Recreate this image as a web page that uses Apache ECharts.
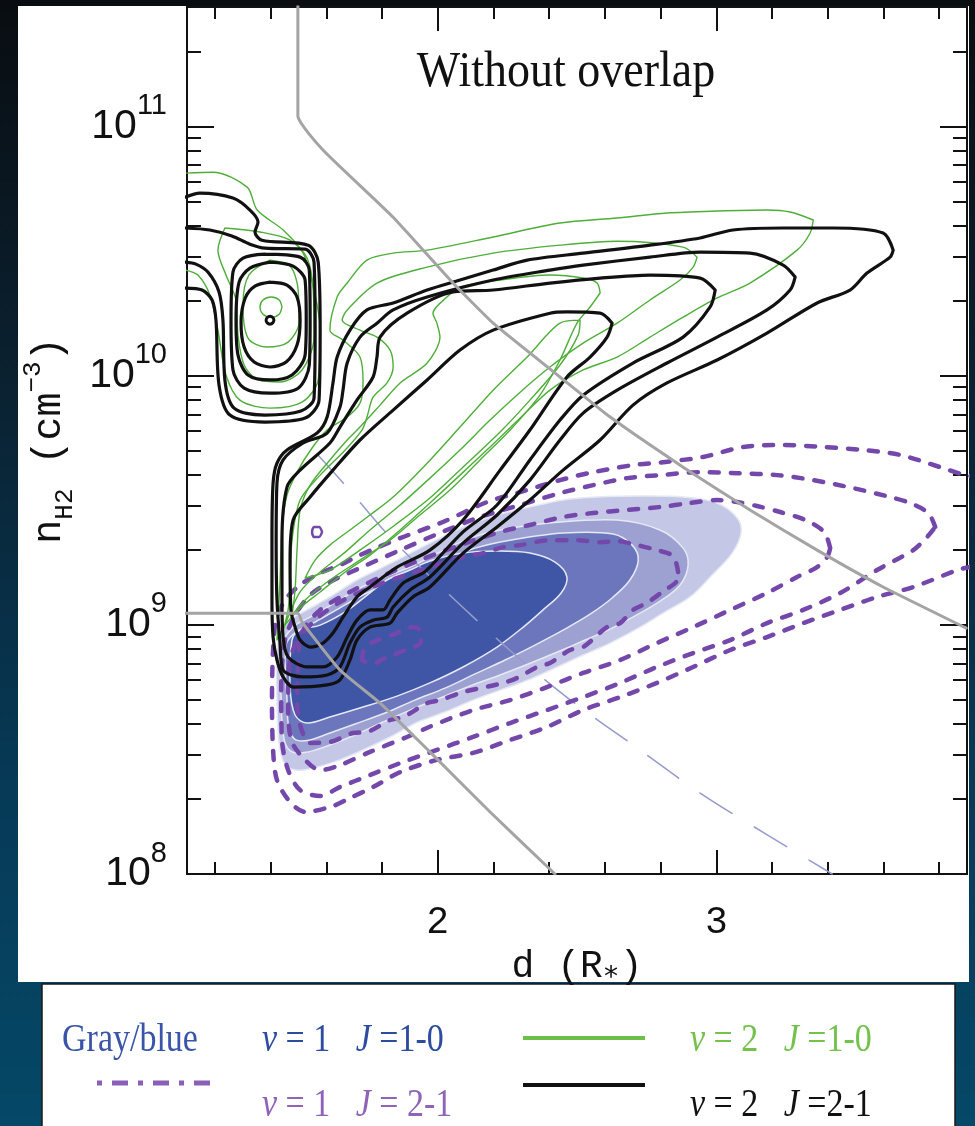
<!DOCTYPE html>
<html><head><meta charset="utf-8">
<script src="https://cdn.jsdelivr.net/npm/echarts@6/dist/echarts.min.js"></script>
<style>html,body{margin:0;padding:0;background:#06202e;}#c{width:975px;height:1126px;}</style>
</head><body><div id="c"></div>
<script>
// x = d (R*), y = log10 n_H2 (cm^-3)
const xMajorTicks = [2, 3];
const xMinorTicks = [1.2,1.4,1.6,1.8,2.2,2.4,2.6,2.8,3.2,3.4,3.6,3.8];
const yMajorTicks = [1e8, 1e9, 1e10, 1e11];
const yMinorTicks = [2e8,3e8,4e8,5e8,6e8,7e8,8e8,9e8,2e9,3e9,4e9,5e9,6e9,7e9,8e9,9e9,2e10,3e10,4e10,5e10,6e10,7e10,8e10,9e10,2e11];

// v=1 J=1-0 filled levels (outer -> inner)
const blueLevel1 = [[1.427,8.939],[1.470,9.019],[1.531,9.060],[1.613,9.112],[1.710,9.180],[1.782,9.220],[1.854,9.260],[1.972,9.328],[2.091,9.393],[2.213,9.441],[2.331,9.473],[2.450,9.501],[2.572,9.513],[2.726,9.517],[2.881,9.513],[3.003,9.489],[3.075,9.429],[3.089,9.369],[3.057,9.288],[2.985,9.200],[2.906,9.112],[2.816,9.052],[2.720,8.987],[2.619,8.927],[2.522,8.879],[2.421,8.827],[2.325,8.779],[2.224,8.738],[2.127,8.698],[2.026,8.650],[1.929,8.610],[1.829,8.550],[1.732,8.498],[1.649,8.458],[1.553,8.425],[1.488,8.417],[1.449,8.445],[1.431,8.518],[1.423,8.698]];
const blueLevel2 = [[1.441,8.919],[1.481,8.991],[1.542,9.031],[1.631,9.088],[1.721,9.148],[1.811,9.192],[1.901,9.232],[2.008,9.292],[2.116,9.348],[2.224,9.381],[2.403,9.409],[2.644,9.421],[2.798,9.381],[2.881,9.308],[2.899,9.240],[2.870,9.160],[2.805,9.100],[2.726,9.047],[2.626,8.987],[2.529,8.939],[2.421,8.887],[2.325,8.843],[2.224,8.799],[2.116,8.755],[2.008,8.706],[1.901,8.658],[1.804,8.610],[1.703,8.558],[1.613,8.518],[1.535,8.490],[1.477,8.490],[1.449,8.538],[1.438,8.698]];
const blueLevel3 = [[1.455,8.919],[1.491,8.971],[1.560,9.011],[1.649,9.068],[1.739,9.124],[1.829,9.168],[1.918,9.208],[2.026,9.260],[2.134,9.308],[2.260,9.340],[2.450,9.369],[2.630,9.365],[2.698,9.320],[2.720,9.260],[2.690,9.180],[2.626,9.108],[2.547,9.043],[2.450,8.979],[2.349,8.919],[2.242,8.859],[2.134,8.803],[2.026,8.746],[1.918,8.698],[1.811,8.646],[1.703,8.602],[1.613,8.566],[1.542,8.538],[1.491,8.538],[1.466,8.586],[1.459,8.698]];
const blueLevel4 = [[1.477,8.939],[1.506,8.979],[1.578,8.999],[1.668,9.052],[1.739,9.112],[1.818,9.180],[1.901,9.220],[1.972,9.256],[2.091,9.288],[2.213,9.296],[2.331,9.288],[2.421,9.252],[2.464,9.192],[2.443,9.128],[2.378,9.060],[2.307,8.991],[2.213,8.911],[2.091,8.831],[1.972,8.767],[1.854,8.714],[1.732,8.670],[1.613,8.630],[1.531,8.606],[1.488,8.638],[1.470,8.750]];

// v=1 J=2-1 dashed contours
const purple1 = [[4.019,9.581],[3.894,9.601],[3.804,9.633],[3.660,9.682],[3.527,9.702],[3.383,9.714],[3.240,9.722],[3.096,9.714],[2.953,9.674],[2.809,9.653],[2.701,9.641],[2.558,9.613],[2.439,9.581],[2.296,9.533],[2.177,9.493],[2.019,9.413],[1.865,9.348],[1.721,9.280],[1.649,9.240],[1.578,9.208],[1.506,9.160],[1.452,9.100],[1.420,9.019],[1.409,8.899],[1.405,8.698],[1.409,8.498],[1.423,8.377],[1.470,8.289],[1.524,8.249],[1.624,8.273],[1.685,8.305],[1.768,8.349],[1.865,8.409],[1.997,8.458],[2.127,8.486],[2.260,8.538],[2.392,8.590],[2.522,8.658],[2.655,8.710],[2.787,8.767],[2.917,8.831],[3.050,8.899],[3.182,8.951],[3.312,9.007],[3.445,9.060],[3.577,9.112],[3.707,9.152],[3.865,9.220],[4.019,9.280]];
const purple2 = [[3.786,9.393],[3.761,9.449],[3.696,9.489],[3.624,9.513],[3.491,9.549],[3.348,9.581],[3.218,9.601],[3.075,9.609],[2.942,9.613],[2.798,9.601],[2.680,9.589],[2.558,9.561],[2.439,9.529],[2.296,9.481],[2.152,9.433],[2.008,9.369],[1.865,9.300],[1.721,9.228],[1.613,9.172],[1.542,9.120],[1.488,9.039],[1.452,8.939],[1.438,8.738],[1.441,8.538],[1.463,8.417],[1.506,8.337],[1.578,8.313],[1.649,8.349],[1.757,8.397],[1.865,8.445],[1.997,8.498],[2.127,8.550],[2.260,8.606],[2.392,8.658],[2.522,8.710],[2.655,8.767],[2.787,8.831],[2.917,8.887],[3.050,8.939],[3.182,9.007],[3.312,9.060],[3.445,9.128],[3.577,9.220],[3.707,9.300],[3.757,9.353]];
const purple3 = [[3.409,9.308],[3.387,9.373],[3.319,9.421],[3.229,9.453],[3.146,9.477],[3.075,9.493],[3.003,9.501],[2.906,9.489],[2.798,9.473],[2.680,9.461],[2.558,9.449],[2.450,9.433],[2.331,9.401],[2.224,9.373],[2.080,9.320],[1.936,9.260],[1.811,9.200],[1.685,9.132],[1.578,9.060],[1.517,8.979],[1.470,8.859],[1.463,8.698],[1.474,8.538],[1.524,8.458],[1.578,8.417],[1.649,8.437],[1.757,8.490],[1.890,8.550],[1.969,8.590],[2.127,8.658],[2.260,8.698],[2.392,8.750],[2.522,8.807],[2.655,8.859],[2.787,8.927],[2.917,8.991],[3.050,9.060],[3.182,9.128],[3.290,9.192],[3.362,9.232],[3.398,9.272]];
const purple4 = [[2.863,9.212],[2.845,9.276],[2.787,9.300],[2.716,9.320],[2.644,9.336],[2.583,9.332],[2.500,9.340],[2.403,9.340],[2.296,9.320],[2.235,9.312],[2.163,9.288],[2.091,9.272],[1.972,9.232],[1.865,9.192],[1.757,9.148],[1.649,9.092],[1.560,9.019],[1.506,8.939],[1.499,8.839],[1.495,8.698],[1.506,8.598],[1.542,8.526],[1.613,8.530],[1.696,8.566],[1.746,8.570],[1.829,8.618],[1.876,8.630],[1.962,8.686],[2.008,8.698],[2.091,8.730],[2.235,8.767],[2.285,8.787],[2.357,8.831],[2.403,8.847],[2.475,8.899],[2.522,8.911],[2.608,8.991],[2.655,9.007],[2.701,9.060],[2.751,9.088],[2.816,9.140],[2.856,9.172]];
const purple5 = [[1.728,8.859],[1.739,8.911],[1.786,8.939],[1.854,8.967],[1.908,8.991],[1.936,8.979],[1.940,8.931],[1.883,8.899],[1.811,8.867],[1.764,8.843]];
const purple6 = [[1.585,9.373],[1.574,9.393],[1.556,9.393],[1.549,9.373],[1.556,9.353],[1.574,9.353]];

// v=2 J=1-0 thin contours
const green1 = [[3.348,10.625],[3.265,10.657],[3.182,10.665],[3.003,10.661],[2.823,10.653],[2.644,10.633],[2.439,10.613],[2.199,10.557],[1.962,10.504],[1.840,10.492],[1.746,10.464],[1.675,10.372],[1.639,10.316],[1.613,10.183],[1.660,10.143],[1.721,10.075],[1.732,9.971],[1.721,9.890],[1.675,9.834],[1.603,9.782],[1.549,9.710],[1.499,9.621],[1.459,9.521],[1.441,9.381],[1.434,9.180],[1.427,9.019],[1.423,8.939],[1.452,8.999],[1.506,9.068],[1.578,9.132],[1.668,9.212],[1.757,9.280],[1.865,9.381],[1.972,9.489],[2.080,9.601],[2.188,9.714],[2.296,9.830],[2.403,9.942],[2.522,10.023],[2.644,10.075],[2.762,10.155],[2.881,10.235],[3.003,10.312],[3.121,10.372],[3.290,10.504],[3.337,10.573]];
const green2 = [[2.931,10.476],[2.881,10.516],[2.644,10.540],[2.439,10.524],[2.199,10.492],[1.962,10.436],[1.782,10.372],[1.675,10.264],[1.657,10.223],[1.721,10.183],[1.782,10.155],[1.829,10.103],[1.840,10.035],[1.818,9.971],[1.768,9.914],[1.746,9.834],[1.728,9.782],[1.668,9.702],[1.578,9.601],[1.506,9.501],[1.477,9.340],[1.470,9.180],[1.463,9.060],[1.445,8.979],[1.506,9.132],[1.578,9.212],[1.668,9.292],[1.757,9.381],[1.865,9.481],[1.972,9.589],[2.080,9.702],[2.188,9.822],[2.296,9.934],[2.403,10.035],[2.522,10.131],[2.644,10.211],[2.762,10.304],[2.870,10.384],[2.917,10.436]];
const green3 = [[2.583,10.332],[2.572,10.372],[2.522,10.392],[2.403,10.404],[2.224,10.384],[2.080,10.356],[2.033,10.316],[1.983,10.251],[1.997,10.211],[2.008,10.155],[1.962,10.051],[1.865,9.971],[1.793,9.882],[1.721,9.794],[1.675,9.742],[1.613,9.662],[1.542,9.561],[1.506,9.461],[1.495,9.300],[1.488,9.140],[1.477,9.039],[1.524,9.100],[1.613,9.180],[1.721,9.260],[1.829,9.340],[1.936,9.441],[2.044,9.541],[2.152,9.662],[2.260,9.782],[2.367,9.922],[2.439,10.063],[2.500,10.211],[2.547,10.276]];
const green4 = [[2.511,10.223],[2.439,10.211],[2.321,10.075],[2.199,9.942],[2.080,9.794],[1.962,9.649],[1.840,9.513],[1.757,9.441],[1.685,9.381],[1.613,9.320],[1.560,9.260],[1.524,9.188],[1.613,9.220],[1.721,9.300],[1.847,9.401],[1.972,9.509],[2.098,9.641],[2.224,9.774],[2.331,9.902],[2.439,10.043],[2.504,10.163]];
const greenIsland1 = [[1.441,10.276],[1.431,10.304],[1.402,10.316],[1.373,10.304],[1.362,10.276],[1.373,10.247],[1.402,10.235],[1.431,10.247]];
const greenIsland2 = [[1.398,10.464],[1.470,10.440],[1.499,10.344],[1.502,10.215],[1.463,10.135],[1.384,10.115],[1.319,10.151],[1.301,10.284],[1.322,10.404]];
const greenIsland3 = [[1.236,10.593],[1.362,10.577],[1.470,10.544],[1.531,10.472],[1.553,10.344],[1.556,10.155],[1.513,10.023],[1.434,9.975],[1.355,9.983],[1.305,10.043],[1.283,10.163],[1.276,10.304],[1.240,10.404],[1.211,10.504]];
const greenIsland4 = [[1.095,10.813],[1.193,10.817],[1.316,10.757],[1.352,10.665],[1.445,10.585],[1.517,10.492],[1.556,10.344],[1.578,10.183],[1.571,9.983],[1.513,9.894],[1.398,9.870],[1.290,9.902],[1.240,10.003],[1.211,10.183],[1.182,10.324],[1.139,10.404],[1.095,10.424]];

// v=2 J=2-1 thick contours
const black1 = [[3.635,10.504],[3.599,10.573],[3.420,10.593],[3.240,10.593],[3.060,10.585],[2.942,10.553],[2.762,10.524],[2.522,10.492],[2.321,10.464],[2.199,10.424],[2.080,10.384],[1.962,10.344],[1.840,10.292],[1.746,10.264],[1.685,10.183],[1.639,10.075],[1.624,9.971],[1.603,9.834],[1.567,9.770],[1.459,9.702],[1.423,9.649],[1.409,9.569],[1.405,9.340],[1.405,9.100],[1.409,8.951],[1.423,8.859],[1.445,8.791],[1.481,8.750],[1.603,8.759],[1.649,8.779],[1.685,8.859],[1.710,8.939],[1.757,8.991],[1.829,9.007],[1.854,9.047],[1.911,9.112],[1.972,9.152],[2.091,9.288],[2.213,9.393],[2.331,9.501],[2.450,9.621],[2.583,9.742],[2.701,9.882],[2.823,9.971],[3.003,10.063],[3.182,10.171],[3.362,10.292],[3.480,10.344],[3.541,10.412],[3.624,10.476]];
const black2 = [[3.283,10.396],[3.240,10.444],[3.121,10.492],[2.942,10.496],[2.762,10.476],[2.522,10.444],[2.403,10.424],[2.199,10.384],[1.962,10.316],[1.840,10.264],[1.782,10.211],[1.721,10.155],[1.675,10.051],[1.660,9.942],[1.649,9.874],[1.603,9.770],[1.517,9.730],[1.445,9.662],[1.423,9.569],[1.420,9.340],[1.423,9.100],[1.434,8.927],[1.445,8.819],[1.517,8.791],[1.603,8.799],[1.649,8.831],[1.685,8.927],[1.721,8.991],[1.768,9.019],[1.818,9.031],[1.840,9.072],[1.901,9.140],[1.972,9.192],[2.091,9.328],[2.213,9.441],[2.331,9.581],[2.439,9.742],[2.522,9.850],[2.644,9.942],[2.823,10.051],[3.003,10.155],[3.182,10.264],[3.265,10.344]];
const black3 = [[2.996,10.344],[2.942,10.392],[2.762,10.404],[2.583,10.392],[2.403,10.372],[2.199,10.344],[2.055,10.336],[1.890,10.251],[1.793,10.155],[1.782,10.075],[1.768,9.995],[1.710,9.902],[1.649,9.794],[1.613,9.730],[1.506,9.621],[1.459,9.553],[1.441,9.340],[1.441,9.100],[1.445,8.951],[1.463,8.871],[1.531,8.831],[1.588,8.831],[1.639,8.871],[1.675,8.951],[1.710,9.019],[1.757,9.060],[1.804,9.060],[1.829,9.100],[1.876,9.168],[1.947,9.208],[1.972,9.232],[2.091,9.373],[2.213,9.481],[2.331,9.662],[2.439,9.822],[2.522,9.922],[2.701,10.051],[2.881,10.155],[2.978,10.276]];
const black4 = [[2.626,10.211],[2.583,10.251],[2.464,10.256],[2.403,10.251],[2.199,10.183],[2.080,10.103],[1.962,9.983],[1.840,9.862],[1.721,9.742],[1.624,9.621],[1.542,9.513],[1.481,9.421],[1.470,9.260],[1.473,9.060],[1.488,8.991],[1.506,8.939],[1.542,8.911],[1.588,8.927],[1.624,8.967],[1.660,9.031],[1.710,9.112],[1.757,9.152],[1.804,9.192],[1.854,9.232],[1.972,9.300],[2.091,9.421],[2.224,9.621],[2.331,9.782],[2.464,9.995],[2.547,10.075],[2.608,10.155]];
const blackIsland0 = [[1.412,10.223],[1.408,10.234],[1.398,10.239],[1.388,10.234],[1.384,10.223],[1.388,10.212],[1.398,10.207],[1.408,10.212]];
const blackIsland1 = [[1.398,10.376],[1.459,10.364],[1.495,10.316],[1.506,10.223],[1.495,10.123],[1.456,10.055],[1.398,10.035],[1.341,10.055],[1.305,10.115],[1.294,10.215],[1.309,10.312],[1.344,10.360]];
const blackIsland2 = [[1.398,10.456],[1.481,10.440],[1.524,10.384],[1.528,10.223],[1.524,10.083],[1.477,10.003],[1.398,9.983],[1.319,10.003],[1.283,10.083],[1.276,10.223],[1.287,10.376],[1.326,10.432]];
const blackIsland3 = [[1.380,10.488],[1.506,10.476],[1.539,10.424],[1.542,10.223],[1.539,10.043],[1.499,9.950],[1.398,9.930],[1.305,9.950],[1.265,10.023],[1.258,10.223],[1.265,10.416],[1.301,10.472]];
const blackIsland4 = [[1.095,10.593],[1.182,10.585],[1.261,10.561],[1.326,10.528],[1.380,10.512],[1.524,10.508],[1.556,10.456],[1.560,10.183],[1.556,9.910],[1.509,9.858],[1.380,9.842],[1.269,9.870],[1.236,9.983],[1.229,10.223],[1.215,10.336],[1.175,10.416],[1.132,10.448],[1.095,10.456]];
const blackIsland5 = [[1.095,10.717],[1.146,10.733],[1.265,10.713],[1.326,10.665],[1.355,10.617],[1.344,10.577],[1.369,10.544],[1.535,10.524],[1.571,10.456],[1.578,10.183],[1.574,9.902],[1.524,9.830],[1.380,9.814],[1.254,9.842],[1.215,9.962],[1.204,10.223],[1.190,10.304],[1.154,10.344],[1.095,10.352]];

// gray guide lines
const grayLineA = [[1.498,11.49],[1.498,11.042],[1.588,10.906],[1.839,10.637],[2.055,10.372],[2.199,10.211],[2.439,9.995],[2.619,9.834],[2.881,9.633],[3.121,9.461],[3.362,9.300],[3.599,9.152],[3.897,8.987]];
const grayLineB = [[1.09,9.047],[1.498,9.047],[1.513,9.011],[1.649,8.819],[1.793,8.686],[1.972,8.490],[2.188,8.249],[2.421,8.0]];
const thinDashLine = [[1.570,9.682],[1.674,9.553],[1.839,9.340],[2.062,9.100],[2.270,8.887],[2.486,8.690],[2.716,8.506],[2.942,8.325],[3.183,8.157],[3.416,8.0]];

const chart = echarts.init(document.getElementById('c'), null, {renderer:'canvas'});
const lg = v => Math.log10(v);
const MONO = 'Liberation Mono';
const SERIF = 'Liberation Serif';

function contour(data, color, width, dash, z, closed, smooth) {
  return {type:'line', data: closed ? data.concat([data[0]]) : data, showSymbol:false, symbol:'none',
    smooth: smooth === undefined ? 0.3 : smooth, clip:true, silent:true, z: z, animation:false,
    lineStyle:{color: color, width: width, type: dash || 'solid', cap:'round', join:'round'},
    emphasis:{disabled:true}};
}
function fill(pts, color, z) {
  return {type:'custom', coordinateSystem:'cartesian2d', data:[pts[0]], clip:true, silent:true, z: z, animation:false,
    renderItem: (params, api) => ({type:'polygon', shape:{points: pts.map(p => api.coord(p)), smooth:0.35},
      style:{fill: color, stroke:'#e6e8f4', lineWidth:1.5}})};
}
const BLACK = '#111111', GREEN = '#4fae3a', PURPLE = '#7448ab';
const pDash = [9, 12];

const series = [
  fill(blueLevel1, '#c4c7e6', 1), fill(blueLevel2, '#9ca1d2', 1), fill(blueLevel3, '#6c76bc', 1), fill(blueLevel4, '#3e56a5', 1),
  contour(thinDashLine, '#959bcb', 1.5, [38, 26], 2, false, 0.3),
  contour(purple1, PURPLE, 4.5, pDash, 3, true), contour(purple2, PURPLE, 4.5, pDash, 3, true),
  contour(purple3, PURPLE, 4.5, pDash, 3, true), contour(purple4, PURPLE, 4.5, pDash, 3, true),
  contour(purple5, PURPLE, 4.5, pDash, 3, true), contour(purple6, PURPLE, 2.5, 'solid', 3, true),
  contour(green1, GREEN, 1.4, null, 4, true), contour(green2, GREEN, 1.4, null, 4, true),
  contour(green3, GREEN, 1.4, null, 4, true), contour(green4, GREEN, 1.4, null, 4, true),
  contour(greenIsland1, GREEN, 1.4, null, 4, true), contour(greenIsland2, GREEN, 1.4, null, 4, true),
  contour(greenIsland3, GREEN, 1.4, null, 4, true), contour(greenIsland4, GREEN, 1.4, null, 4, false),
  contour(black1, BLACK, 3.2, null, 5, true), contour(black2, BLACK, 3.2, null, 5, true),
  contour(black3, BLACK, 3.2, null, 5, true), contour(black4, BLACK, 3.2, null, 5, true),
  contour(blackIsland0, BLACK, 3, null, 5, true, 0.5), contour(blackIsland1, BLACK, 3.2, null, 5, true),
  contour(blackIsland2, BLACK, 3.2, null, 5, true), contour(blackIsland3, BLACK, 3.2, null, 5, true),
  contour(blackIsland4, BLACK, 3.2, null, 5, false), contour(blackIsland5, BLACK, 3.2, null, 5, false),
  contour(grayLineA, '#a4a4a4', 3, null, 6, false, 0.15), contour(grayLineB, '#a4a4a4', 3, null, 6, false, 0.15)
];

const tickStyle = {color:'#111', width:2};
function xAx(pos, ticks, len, withLabel) {
  return {type:'value', min:1.1, max:3.9, position:pos, splitLine:{show:false}, axisLine:{show:false},
    axisTick:{show:true, inside:true, length:len, customValues:ticks, lineStyle:tickStyle},
    axisLabel: withLabel ? {show:true, customValues:xMajorTicks, margin:30, color:'#111', fontFamily:MONO, fontSize:38,
      formatter: v => String(Math.round(v))} : {show:false},
    name: withLabel ? 'd (R{s|∗})' : '', nameLocation:'middle', nameGap:66,
    nameTextStyle:{color:'#111', fontFamily:MONO, fontSize:38, lineHeight:40,
      rich:{s:{fontFamily:'DejaVu Sans Mono', fontSize:28, color:'#111', verticalAlign:'bottom', lineHeight:32}}}};
}
function yAx(pos, ticks, len, withLabel) {
  return {type:'value', min:8, max:11.48, position:pos, splitLine:{show:false}, axisLine:{show:false},
    axisTick:{show:true, inside:true, length:len, customValues:ticks.map(lg), lineStyle:tickStyle},
    axisLabel: withLabel ? {show:true, customValues:yMajorTicks.map(lg), margin:20,
      formatter: v => '{b|10}{s|' + Math.round(v) + '}',
      rich:{b:{fontFamily:'Liberation Sans', fontSize:41, lineHeight:70, color:'#111'},
            s:{fontFamily:'Liberation Sans', fontSize:29, lineHeight:29, verticalAlign:'top', color:'#111'}}} : {show:false},
    name: withLabel ? 'n{sub|H2} (cm{sup|−3})' : '', nameLocation:'middle', nameGap:104, nameRotate:90,
    nameTextStyle:{color:'#111', fontFamily:MONO, fontSize:40, lineHeight:58,
      rich:{sub:{fontFamily:MONO, fontSize:26, lineHeight:26, verticalAlign:'bottom', color:'#111'},
            sup:{fontFamily:MONO, fontSize:26, lineHeight:26, verticalAlign:'top', color:'#111'}}}};
}

function legendText(txt, x, y, color) {
  return {type:'text', x:x, y:y, z:30, silent:true, scaleY:1.15,
    style:{text:txt, fill:color, fontFamily:SERIF, fontSize:34, verticalAlign:'middle', align:'left',
      rich:{i:{fontFamily:SERIF, fontSize:34, fontStyle:'italic', fill:color}}}};
}

const option = {
  animation:false,
  backgroundColor:'transparent',
  grid:{left:187, right:8, top:7, bottom:252, show:true, borderColor:'#111', borderWidth:2, backgroundColor:'rgba(0,0,0,0)', containLabel:false},
  xAxis:[xAx('bottom', xMajorTicks, 24, true), xAx('bottom', xMinorTicks, 12, false), xAx('top', xMajorTicks, 24, false), xAx('top', xMinorTicks, 12, false)],
  yAxis:[yAx('left', yMajorTicks, 27, true), yAx('left', yMinorTicks, 14, false), yAx('right', yMajorTicks, 27, false), yAx('right', yMinorTicks, 14, false)],
  series: series,
  graphic:{elements:[
    {type:'rect', z:-30, silent:true, shape:{x:0,y:0,width:975,height:1126},
      style:{fill:new echarts.graphic.LinearGradient(0,0,0,1,[{offset:0,color:'#090d11'},{offset:0.35,color:'#0a2232'},{offset:0.7,color:'#063a57'},{offset:1,color:'#054867'}])}},
    {type:'rect', z:-29, silent:true, shape:{x:18,y:6,width:951,height:976}, style:{fill:'#ffffff'}},
    {type:'rect', z:-28, silent:true, shape:{x:42,y:984,width:913,height:160}, style:{fill:'#ffffff', stroke:'#1a1a1a', lineWidth:1.5}},
    {type:'text', x:566, y:72, z:30, silent:true, scaleY:1.12, style:{text:'Without overlap', fill:'#111', fontFamily:SERIF, fontSize:46, align:'center', verticalAlign:'middle'}},
    legendText('Gray/blue', 62, 1041, '#3a55a8'),
    legendText('{i|v} = 1   {i|J} =1-0', 262, 1041, '#2e4c9f'),
    {type:'line', z:30, silent:true, shape:{x1:523,y1:1038,x2:645,y2:1038}, style:{stroke:'#6cc04a', lineWidth:4}},
    legendText('{i|v} = 2   {i|J} =1-0', 690, 1041, '#74c14c'),
    {type:'line', z:30, silent:true, shape:{x1:97,y1:1083,x2:218,y2:1083}, style:{stroke:'#8b5fb8', lineWidth:5, lineDash:[5,10,16,10]}},
    legendText('{i|v} = 1   {i|J} = 2-1', 262, 1106, '#8e63b8'),
    {type:'line', z:30, silent:true, shape:{x1:523,y1:1085,x2:645,y2:1085}, style:{stroke:'#111', lineWidth:4}},
    legendText('{i|v} = 2   {i|J} =2-1', 690, 1106, '#111')
  ]}
};
chart.setOption(option);
</script></body></html>
